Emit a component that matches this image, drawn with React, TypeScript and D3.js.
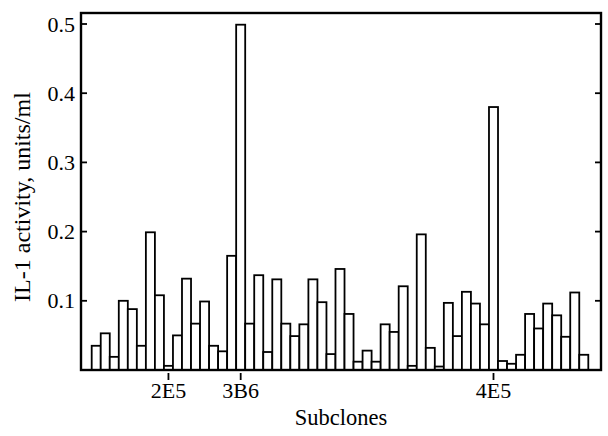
import React from "react";
import * as d3 from "d3";

const WIDTH = 608;
const HEIGHT = 436;

// IL-1 activity (units/ml) per subclone, left to right
const activity = [
  0.035, 0.053, 0.019, 0.1, 0.088, 0.035, 0.199, 0.108, 0.006, 0.05,
  0.132, 0.067, 0.099, 0.035, 0.027, 0.165, 0.499, 0.067, 0.137, 0.026,
  0.131, 0.067, 0.049, 0.066, 0.131, 0.098, 0.023, 0.146, 0.081, 0.012,
  0.028, 0.012, 0.066, 0.055, 0.121, 0.006, 0.196, 0.032, 0.005, 0.097,
  0.049, 0.113, 0.096, 0.066, 0.38, 0.013, 0.009, 0.022, 0.081, 0.06,
  0.096, 0.079, 0.048, 0.112, 0.022,
];

// named subclones and the bar they belong to
const namedClones = ["2E5", "3B6", "4E5"];
const namedIndex = [8, 16, 44];

const yTicks = [0.1, 0.2, 0.3, 0.4, 0.5];

const FRAME = { left: 81, right: 601, top: 13, bottom: 370 };
const BARS_X0 = 91.7;
const BARS_X1 = 588.3;

export default function App() {
  const x = d3
    .scaleBand<number>()
    .domain(d3.range(activity.length))
    .range([BARS_X0, BARS_X1])
    .padding(0);

  const y = d3.scaleLinear().domain([0, 0.5]).range([FRAME.bottom, 24]);

  const font = "'Liberation Serif', 'Times New Roman', serif";

  return (
    <svg
      width={WIDTH}
      height={HEIGHT}
      style={{ position: "absolute", left: 0, top: 0, background: "#fff" }}
    >
      {/* bars */}
      <g>
        {activity.map((v, i) => (
          <rect
            key={i}
            x={x(i)}
            y={y(v)}
            width={x.bandwidth()}
            height={y(0) - y(v)}
            fill="#fff"
            stroke="#000"
            strokeWidth={1.8}
          />
        ))}
      </g>

      {/* frame */}
      <rect
        x={FRAME.left}
        y={FRAME.top}
        width={FRAME.right - FRAME.left}
        height={FRAME.bottom - FRAME.top}
        fill="none"
        stroke="#000"
        strokeWidth={2.4}
      />

      {/* y ticks, inward on both sides */}
      {yTicks.map((t) => (
        <g key={t}>
          <line x1={FRAME.left} x2={FRAME.left + 6} y1={y(t)} y2={y(t)} stroke="#000" strokeWidth={1.8} />
          <line x1={FRAME.right} x2={FRAME.right - 6} y1={y(t)} y2={y(t)} stroke="#000" strokeWidth={1.8} />
          <text
            x={FRAME.left - 6}
            y={y(t)}
            textAnchor="end"
            dominantBaseline="central"
            fontFamily={font}
            fontSize={22}
          >
            {t.toFixed(1)}
          </text>
        </g>
      ))}

      {/* x ticks for named subclones */}
      {namedClones.map((name, k) => {
        const cx = (x(namedIndex[k]) ?? 0) + x.bandwidth() / 2;
        return (
          <g key={name}>
            <line x1={cx} x2={cx} y1={FRAME.bottom + 3} y2={FRAME.bottom + 10} stroke="#000" strokeWidth={1.8} />
            <text x={cx} y={398} textAnchor="middle" fontFamily={font} fontSize={22}>
              {name}
            </text>
          </g>
        );
      })}

      <text
        x={(FRAME.left + FRAME.right) / 2}
        y={425}
        textAnchor="middle"
        fontFamily={font}
        fontSize={22.5}
      >
        Subclones
      </text>

      <text
        transform="translate(30, 197) rotate(-90)"
        textAnchor="middle"
        fontFamily={font}
        fontSize={24}
      >
        IL-1 activity, units/ml
      </text>
    </svg>
  );
}
